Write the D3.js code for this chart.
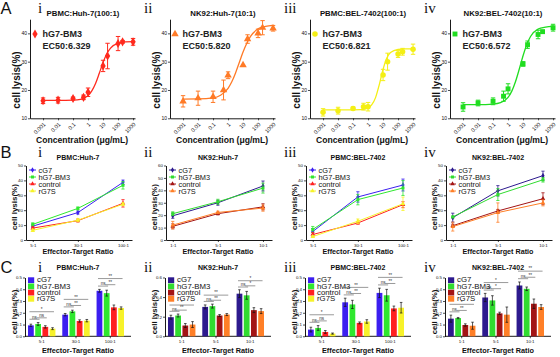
<!DOCTYPE html>
<html><head><meta charset="utf-8">
<script src="https://cdn.jsdelivr.net/npm/d3@7"></script>
<style>body{margin:0;background:#fff}svg{display:block}</style>
</head><body><svg id="c" width="560" height="357"></svg>
<script>
// ================= DATA =================
// Row A: dose-response
const concentrations = [0.001, 0.01, 0.1, 0.5, 1, 10, 20, 100, 200, 1000];
const concTicks = [0.001, 0.01, 0.1, 1, 10, 100, 1000];
const concTickLabels = ["0.001", "0.01", "0.1", "1", "10", "100", "1000"];
const aYTicks = [10, 20, 30, 40];
const aTitles = ["PBMC:Huh-7(100:1)", "NK92:Huh-7(10:1)", "PBMC:BEL-7402(100:1)", "NK92:BEL-7402(10:1)"];
const aEC50 = ["6.329", "5.820", "6.821", "6.572"];
const aSeriesName = "hG7-BM3";
const aLysisPBMCHuh7 = [16.2, 16.4, 17.0, 17.4, 19.2, 28.5, 32.0, 36.4, 37.0, 37.0];
const aErrPBMCHuh7   = [1.0, 1.0, 0.5, 0.8, 1.5, 2.0, 4.5, 2.5, 0.5, 1.2];
const aLysisNK92Huh7 = [16.0, 17.1, 17.6, 20.0, 25.2, 28.8, 38.0, 40.0, 42.0, 41.8];
const aErrNK92Huh7   = [2.0, 2.5, 2.0, 3.5, 1.2, 0.0, 1.5, 1.5, 2.5, 1.0];
const aLysisPBMCBel  = [12.1, 12.7, 13.5, 14.1, 14.1, 25.3, 30.0, 32.7, 33.5, 34.4];
const aErrPBMCBel    = [1.3, 1.2, 0.5, 1.2, 1.5, 2.0, 3.0, 1.2, 1.2, 1.8];
const aLysisNK92Bel  = [14.0, 15.4, 16.0, 17.8, 20.4, 29.2, 36.0, 39.6, 40.6, 42.0];
const aErrNK92Bel    = [1.5, 1.0, 1.2, 1.8, 1.8, 0.8, 1.3, 1.5, 0.5, 1.2];
// fitted curves, values
const curveConc = [0.001, 0.01, 0.1, 0.316, 1, 1.78, 3.16, 5.62, 10, 17.8, 31.6, 100, 316, 1000];
const fitPBMCHuh7 = [16.3, 16.3, 16.4, 16.7, 18.0, 19.7, 22.3, 25.9, 29.7, 32.8, 34.8, 36.5, 37.0, 37.1];
const fitNK92Huh7 = [16.8, 16.85, 17.2, 18.15, 20.6, 22.9, 26.0, 29.7, 33.4, 36.5, 38.9, 41.6, 42.5, 42.85];
const fitPBMCBel  = [13.0, 13.0, 13.0, 13.05, 13.7, 14.8, 17.3, 21.9, 27.3, 31.3, 33.2, 34.3, 34.5, 34.5];
const fitNK92Bel  = [14.8, 14.8, 15.0, 15.5, 17.4, 19.6, 23.0, 27.4, 32.1, 36.1, 38.9, 41.5, 42.2, 42.45];

// Rows B & C: effector-target ratios
const seriesNames = ["cG7", "hG7-BM3", "control", "rG7S"];
const ratiosPBMC = ["5:1", "30:1", "100:1"];
const ratiosNK92 = ["1:1", "5:1", "10:1"];
const bcTitles = ["PBMC:Huh-7", "NK92:Huh-7", "PBMC:BEL-7402", "NK92:BEL-7402"];
// B (line plots, %)  rows = series, cols = ratios
const bLysisPBMCHuh7 = [[9.3, 18.4, 38.7], [10.5, 21.2, 36.7], [8.0, 13.0, 24.6], [6.5, 13.3, 24.0]];
const bErrPBMCHuh7   = [[1.0, 1.0, 1.5], [1.0, 1.0, 2.5], [0.8, 1.0, 2.5], [0.8, 1.0, 1.0]];
const bLysisNK92Huh7 = [[19.5, 30.0, 43.5], [21.2, 30.8, 41.8], [11.0, 21.2, 26.7], [12.0, 22.2, 25.7]];
const bErrNK92Huh7   = [[2.0, 2.0, 4.0], [1.5, 2.0, 4.0], [2.0, 1.0, 2.5], [3.0, 1.0, 2.5]];
const bLysisPBMCBel  = [[5.7, 28.9, 36.9], [7.1, 27.1, 34.9], [3.7, 11.4, 23.7], [2.3, 12.6, 24.3]];
const bErrPBMCBel    = [[2.0, 3.5, 4.0], [2.0, 3.5, 5.0], [1.2, 0.8, 2.0], [0.5, 1.5, 4.5]];
const bLysisNK92Bel  = [[15.0, 33.0, 43.2], [15.5, 30.5, 40.4], [9.6, 19.5, 27.7], [9.0, 18.4, 24.9]];
const bErrNK92Bel    = [[3.0, 3.5, 3.0], [0.5, 4.0, 1.5], [1.0, 1.0, 4.0], [3.0, 6.5, 2.0]];
const bYMax = [50, 60, 50, 50];
// C (bar plots, fraction)
const cLysisPBMCHuh7 = [[0.093, 0.184, 0.387], [0.105, 0.212, 0.367], [0.080, 0.130, 0.246], [0.065, 0.133, 0.240]];
const cErrPBMCHuh7   = [[0.010, 0.010, 0.012], [0.012, 0.010, 0.025], [0.010, 0.010, 0.020], [0.008, 0.010, 0.010]];
const cLysisNK92Huh7 = [[0.195, 0.300, 0.435], [0.212, 0.308, 0.418], [0.110, 0.212, 0.267], [0.120, 0.222, 0.257]];
const cErrNK92Huh7   = [[0.020, 0.020, 0.040], [0.015, 0.020, 0.040], [0.020, 0.010, 0.025], [0.030, 0.010, 0.025]];
const cLysisPBMCBel  = [[0.057, 0.289, 0.369], [0.071, 0.271, 0.349], [0.037, 0.114, 0.237], [0.023, 0.126, 0.243]];
const cErrPBMCBel    = [[0.020, 0.035, 0.040], [0.020, 0.035, 0.050], [0.012, 0.008, 0.020], [0.005, 0.015, 0.045]];
const cLysisNK92Bel  = [[0.150, 0.330, 0.432], [0.155, 0.305, 0.404], [0.096, 0.195, 0.277], [0.090, 0.184, 0.249]];
const cErrNK92Bel    = [[0.030, 0.035, 0.030], [0.005, 0.040, 0.015], [0.010, 0.010, 0.040], [0.030, 0.065, 0.020]];
const cYMax = [0.5, 0.6, 0.5, 0.5];
const cYTicks5 = [0, 0.1, 0.2, 0.3, 0.4, 0.5];
const cYTicks6 = [0, 0.2, 0.4, 0.6];
// significance labels per group: [cG7 vs hG7, hG7 vs control, cG7 vs rG7S]
const sigPBMCHuh7 = [["ns", "ns", "*"], ["ns", "**", "**"], ["ns", "**", "**"]];
const sigNK92Huh7 = [["ns", "**", "*"], ["ns", "**", "**"], ["ns", "*", "*"]];
const sigPBMCBel  = [["ns", "ns", "*"], ["ns", "**", "**"], ["ns", "**", "**"]];
const sigNK92Bel  = [["ns", "**", "*"], ["ns", "*", "*"], ["ns", "**", "**"]];
const romans = ["i", "ii", "iii", "iv"];

// ================= STYLE =================
const FONT = "Arial, 'Liberation Sans', Helvetica, sans-serif";
const SERIF = "'Liberation Serif', 'DejaVu Serif', 'Times New Roman', serif";
const aColors = ["#ff2a1e", "#ff7a26", "#f4ef14", "#20dd20"];
const aSymbols = [d3.symbolDiamond, d3.symbolTriangle, d3.symbolCircle, d3.symbolSquare];
const pbmcColors = ["#3c1ff0", "#2fe82f", "#ff2020", "#f7f22a"];
const nkColors = ["#2d1a8e", "#30dc30", "#a31414", "#ff7f27"];
const bSymbols = [d3.symbolDiamond, d3.symbolSquare, d3.symbolTriangle, d3.symbolTriangle];

const svg = d3.select("#c");

function styleAxis(sel, fs) {
  sel.attr("font-size", fs).attr("font-family", FONT);
  sel.select(".domain").attr("stroke", "#000").attr("stroke-width", 0.9);
  sel.selectAll(".tick line").attr("stroke", "#000").attr("stroke-width", 0.7);
  sel.selectAll(".tick text").attr("fill", "#111");
}
function txt(x, y, s, opt) {
  const t = svg.append("text").attr("x", x).attr("y", y).text(s)
    .attr("font-family", opt.family || FONT).attr("font-size", opt.size)
    .attr("font-weight", opt.weight || "normal").attr("fill", opt.fill || "#111")
    .attr("text-anchor", opt.anchor || "start");
  if (opt.rotate) t.attr("transform", `rotate(-90,${x},${y})`);
  return t;
}

// panel letters and roman numerals
[["A", 14], ["B", 158], ["C", 273]].forEach(([L, by]) => {
  txt(0.5, by, L, {size: 16.5});
  romans.forEach((r, k) => txt((k === 0 ? 38 : 144) + (k > 0 ? 140 * (k - 1) : 0), by - 1.5, r, {size: 15, family: SERIF}));
});

// ================= ROW A =================
const aLysis = [aLysisPBMCHuh7, aLysisNK92Huh7, aLysisPBMCBel, aLysisNK92Bel];
const aErr = [aErrPBMCHuh7, aErrNK92Huh7, aErrPBMCBel, aErrNK92Bel];
const aFit = [fitPBMCHuh7, fitNK92Huh7, fitPBMCBel, fitNK92Bel];

aTitles.forEach((title, k) => {
  const ox = 140 * k, col = aColors[k];
  const x = d3.scaleLog().domain([Math.pow(10, -3.87), Math.pow(10, 3.13)]).range([30 + ox, 135 + ox]);
  const y = d3.scaleLinear().domain([10, 45]).range([118.3, 19.2]);
  const ya = svg.append("g").attr("transform", `translate(${30 + ox},0)`)
    .call(d3.axisLeft(y).tickValues(aYTicks).tickSize(2).tickPadding(1).tickSizeOuter(0));
  styleAxis(ya, 5);
  const xa = svg.append("g").attr("transform", `translate(0,${y(10)})`)
    .call(d3.axisBottom(x).tickValues(concTicks).tickFormat((d, i) => concTickLabels[i]).tickSize(2).tickSizeOuter(0));
  styleAxis(xa, 5.6);
  xa.selectAll(".tick text").attr("text-anchor", "end").attr("x", 0).attr("y", 0).attr("dy", "0.35em")
    .attr("transform", "translate(1,5) rotate(-45)");
  txt(82 + ox, 143, "Concentration (μg/mL)", {size: 8.6, weight: "bold", anchor: "middle"});
  txt(19.5 + ox, 80, "cell lysis(%)", {size: 10, weight: "bold", anchor: "middle", rotate: true});
  txt(83 + ox, 16, title, {size: 7.8, weight: "bold", anchor: "middle"});
  // fitted curve
  const fit = curveConc.map((c, i) => ({c, v: aFit[k][i]}));
  svg.append("path").datum(fit).attr("fill", "none").attr("stroke", col).attr("stroke-width", 1.3)
    .attr("d", d3.line().x(d => x(d.c)).y(d => y(d.v)).curve(d3.curveMonotoneX));
  // error bars + points
  const pts = concentrations.map((c, i) => ({c, v: aLysis[k][i], e: aErr[k][i]}));
  const g = svg.append("g");
  pts.forEach(p => {
    if (p.e > 0) {
      const cx = x(p.c);
      g.append("line").attr("x1", cx).attr("x2", cx).attr("y1", y(p.v - p.e)).attr("y2", y(p.v + p.e)).attr("stroke", col).attr("stroke-width", 1);
      [p.v - p.e, p.v + p.e].forEach(v => g.append("line").attr("x1", cx - 2.2).attr("x2", cx + 2.2).attr("y1", y(v)).attr("y2", y(v)).attr("stroke", col).attr("stroke-width", 1));
    }
    g.append("path").attr("d", d3.symbol().type(aSymbols[k]).size(24)()).attr("fill", col)
      .attr("transform", `translate(${x(p.c)},${y(p.v)})`);
  });
  // legend
  svg.append("path").attr("d", d3.symbol().type(aSymbols[k]).size(24)()).attr("fill", col)
    .attr("transform", `translate(${35 + ox},34)`);
  txt(42.5 + ox, 37.3, aSeriesName, {size: 9, weight: "bold", fill: "#222"});
  txt(42.5 + ox, 48.5, "EC50:" + aEC50[k], {size: 9, weight: "bold", fill: "#222"});
});

// ================= ROW B =================
const bLysis = [bLysisPBMCHuh7, bLysisNK92Huh7, bLysisPBMCBel, bLysisNK92Bel];
const bErr = [bErrPBMCHuh7, bErrNK92Huh7, bErrPBMCBel, bErrNK92Bel];
const ratiosOf = k => (k % 2 === 0 ? ratiosPBMC : ratiosNK92);
const colorsOf = k => (k % 2 === 0 ? pbmcColors : nkColors);

bcTitles.forEach((title, k) => {
  const ox = 140 * k, cols = colorsOf(k), ratios = ratiosOf(k);
  const x = d3.scaleLinear().domain([-0.15, 2.2]).range([26 + ox, 132 + ox]);
  const y = d3.scaleLinear().domain([0, bYMax[k]]).range([240, 165.5]);
  const ya = svg.append("g").attr("transform", `translate(${26 + ox},0)`)
    .call(d3.axisLeft(y).ticks(bYMax[k] / 10).tickSize(2).tickPadding(1).tickSizeOuter(0));
  styleAxis(ya, 4.4);
  const xa = svg.append("g").attr("transform", "translate(0,240)")
    .call(d3.axisBottom(x).tickValues([0, 1, 2]).tickFormat(i => ratios[i]).tickSize(2).tickPadding(1.5).tickSizeOuter(0));
  styleAxis(xa, 4.4);
  txt(78 + ox, 253.5, "Effector-Target Ratio", {size: 7.2, weight: "bold", anchor: "middle"});
  txt(17 + ox, 207, "cell lysis(%)", {size: 8, weight: "bold", anchor: "middle", rotate: true});
  txt(78 + ox, 159.5, title, {size: 7, weight: "bold", anchor: "middle"});
  seriesNames.forEach((s, si) => {
    const col = cols[si];
    const pts = ratios.map((r, i) => ({i, v: bLysis[k][si][i], e: bErr[k][si][i]}));
    svg.append("path").datum(pts).attr("fill", "none").attr("stroke", col).attr("stroke-width", 1)
      .attr("d", d3.line().x(d => x(d.i)).y(d => y(d.v)));
    pts.forEach(p => {
      const cx = x(p.i);
      svg.append("line").attr("x1", cx).attr("x2", cx).attr("y1", y(Math.max(0, p.v - p.e))).attr("y2", y(p.v + p.e)).attr("stroke", col).attr("stroke-width", 0.8);
      [Math.max(0, p.v - p.e), p.v + p.e].forEach(v => svg.append("line").attr("x1", cx - 1.6).attr("x2", cx + 1.6).attr("y1", y(v)).attr("y2", y(v)).attr("stroke", col).attr("stroke-width", 0.8));
      svg.append("path").attr("d", d3.symbol().type(bSymbols[si]).size(9)()).attr("fill", col)
        .attr("transform", `translate(${cx},${y(p.v)})`);
    });
    // legend
    const ly = 170 + 7 * si;
    svg.append("line").attr("x1", 29 + ox).attr("x2", 36 + ox).attr("y1", ly).attr("y2", ly).attr("stroke", col).attr("stroke-width", 1);
    svg.append("path").attr("d", d3.symbol().type(bSymbols[si]).size(9)()).attr("fill", col)
      .attr("transform", `translate(${32.5 + ox},${ly})`);
    txt(38.5 + ox, ly + 2.6, s, {size: 7.4});
  });
});

// ================= ROW C =================
const cLysis = [cLysisPBMCHuh7, cLysisNK92Huh7, cLysisPBMCBel, cLysisNK92Bel];
const cErr = [cErrPBMCHuh7, cErrNK92Huh7, cErrPBMCBel, cErrNK92Bel];
const cSig = [sigPBMCHuh7, sigNK92Huh7, sigPBMCBel, sigNK92Bel];

bcTitles.forEach((title, k) => {
  const ox = 140 * k, cols = colorsOf(k), ratios = ratiosOf(k);
  const xb = d3.scaleBand().domain(ratios).range([28 + ox, 124 + ox]).paddingInner(0.2).paddingOuter(0);
  const xi = d3.scaleBand().domain(seriesNames).range([0, xb.bandwidth()]).paddingInner(0.2);
  const y = d3.scaleLinear().domain([0, cYMax[k]]).range([336.3, 277.5]);
  const ya = svg.append("g").attr("transform", `translate(${25 + ox},0)`)
    .call(d3.axisLeft(y).tickValues(cYMax[k] === 0.6 ? cYTicks6 : cYTicks5).tickFormat(d3.format(".1f")).tickSize(2).tickPadding(1).tickSizeOuter(0));
  styleAxis(ya, 4.4);
  // x axis line spans the plot frame
  svg.append("line").attr("x1", 25 + ox).attr("x2", 131 + ox).attr("y1", 336.3).attr("y2", 336.3).attr("stroke", "#000").attr("stroke-width", 0.9);
  const xa = svg.append("g").attr("transform", "translate(0,336.3)")
    .call(d3.axisBottom(xb).tickSize(2).tickPadding(1.5).tickSizeOuter(0));
  styleAxis(xa, 4.4);
  xa.select(".domain").remove();
  txt(78 + ox, 352.5, "Effector-Target Ratio", {size: 7.3, weight: "bold", anchor: "middle"});
  txt(17 + ox, 312, "cell lysis(%)", {size: 7.8, weight: "bold", anchor: "middle", rotate: true});
  txt(78 + ox, 270, title, {size: 7, weight: "bold", anchor: "middle"});
  ratios.forEach((r, gi) => {
    const gx = xb(r);
    const tops = seriesNames.map((s, si) => cLysis[k][si][gi] + cErr[k][si][gi]);
    seriesNames.forEach((s, si) => {
      const v = cLysis[k][si][gi], e = cErr[k][si][gi];
      const bx = gx + xi(s), bw = xi.bandwidth(), cx = bx + bw / 2;
      svg.append("rect").attr("x", bx).attr("y", y(v)).attr("width", bw).attr("height", y(0) - y(v)).attr("fill", cols[si]);
      svg.append("line").attr("x1", cx).attr("x2", cx).attr("y1", y(v - e)).attr("y2", y(v + e)).attr("stroke", "#111").attr("stroke-width", 0.7);
      [v - e, v + e].forEach(vv => svg.append("line").attr("x1", cx - 1.3).attr("x2", cx + 1.3).attr("y1", y(vv)).attr("y2", y(vv)).attr("stroke", "#111").attr("stroke-width", 0.7));
    });
    // significance brackets
    const pairs = [[0, 1], [1, 2], [0, 3]];
    const l0 = Math.max(tops[0], tops[1]) + 0.028;
    const l1 = Math.max(Math.max(tops[1], tops[2]) + 0.028, l0 + 0.012);
    const l2 = Math.max(l0, l1) + 0.052;
    [l0, l1, l2].forEach((lv, pi) => {
      const [a, b] = pairs[pi];
      const xa1 = gx + xi(seriesNames[a]) + xi.bandwidth() * 0.25;
      const xb1 = gx + xi(seriesNames[b]) + xi.bandwidth() * 0.75;
      svg.append("line").attr("x1", xa1).attr("x2", xb1).attr("y1", y(lv)).attr("y2", y(lv)).attr("stroke", "#555").attr("stroke-width", 0.6);
      txt((xa1 + xb1) / 2, y(lv) - 0.7, cSig[k][gi][pi], {size: 4.6, anchor: "middle", fill: "#333"});
    });
  });
  // legend
  seriesNames.forEach((s, si) => {
    const ly = 277.3 + 6.2 * si;
    svg.append("rect").attr("x", 28 + ox).attr("y", ly).attr("width", 6.2).attr("height", 5.8).attr("fill", cols[si]);
    txt(37 + ox, ly + 5, s, {size: 7.8});
  });
});
</script></body></html>
